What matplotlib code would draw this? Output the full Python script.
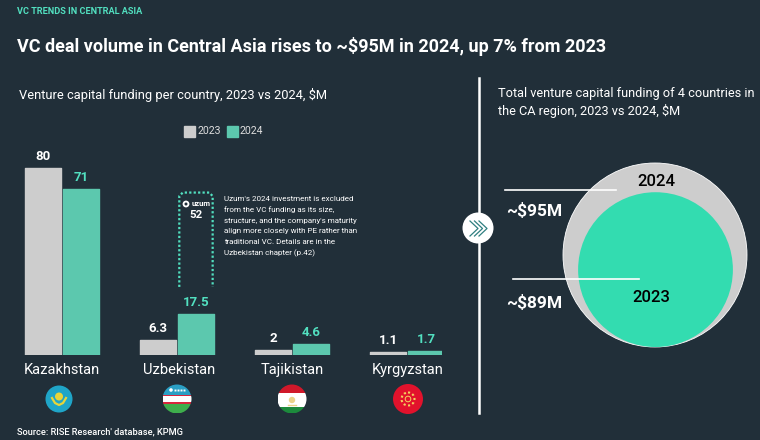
import numpy as np
import matplotlib
matplotlib.use('Agg')
import matplotlib.pyplot as plt
from matplotlib.patches import Circle, Rectangle

countries = ['Kazakhstan', 'Uzbekistan', 'Tajikistan', 'Kyrgyzstan']
funding_2023 = [80, 6.3, 2, 1.1]
funding_2024 = [71, 17.5, 4.6, 1.7]
labels_2023 = ['80', '6.3', '2', '1.1']
labels_2024 = ['71', '17.5', '4.6', '1.7']
uzum_value = 52
total_years = ['2024', '2023']
total_values = [95, 89]
total_labels = ['~$95M', '~$89M']
note_lines = ["Uzum's 2024 investment is excluded",
              'from the VC funding as its size,',
              "structure, and the company's maturity",
              'align more closely with PE rather than',
              'traditional VC. Details are in the',
              'Uzbekistan chapter (p.42)']

BG = '#212f39'
GREY = '#cdcdcd'
TEAL = '#5cc8ae'
MINT = '#33dcb0'
MINT_TXT = '#52e0c0'
plt.rcParams['font.family'] = ['Roboto', 'DejaVu Sans']

W, H = 760, 440
fig = plt.figure(figsize=(W / 100, H / 100), dpi=100, facecolor=BG)

# overlay in pixel coordinates for text and decoration
ov = fig.add_axes([0, 0, 1, 1])
ov.set_xlim(0, W)
ov.set_ylim(H, 0)
ov.axis('off')

# bars: one unit of x is one country group, y is $M
base_px, top_px = 354.5, 160
x0_px, group_px = 62, 115
ax = fig.add_axes([(x0_px - 0.6 * group_px) / W, (H - base_px) / H,
                   3.9 * group_px / W, (base_px - top_px) / H])
ax.set_xlim(-0.6, 3.3)
ax.set_ylim(0, (base_px - top_px) / 2.33)
ax.axis('off')
ax.patch.set_alpha(0)

x = np.arange(len(countries))
bw = 0.305
ax.bar(x - 0.165, funding_2023, bw, color=GREY, edgecolor=GREY, lw=1, joinstyle='round')
ax.bar(x + 0.165, funding_2024, bw, color=TEAL, edgecolor=TEAL, lw=1, joinstyle='round')
for i in x:
    ax.annotate(labels_2023[i], (i - 0.165, funding_2023[i]), xytext=(0, 5.5),
                textcoords='offset points', ha='center', color='white',
                fontsize=9.5, fontweight='bold')
    ax.annotate(labels_2024[i], (i + 0.165, funding_2024[i]), xytext=(0, 5.5),
                textcoords='offset points', ha='center', color=MINT_TXT,
                fontsize=9.5, fontweight='bold')

# dotted outline for the excluded Uzum deal, stacked on Uzbekistan 2024
uz_x = 1 + 0.165
uz_top = funding_2024[1] + uzum_value
uz_bottom = 29
hw, r = 0.145, 0.03
ax.plot([uz_x - hw, uz_x - hw, uz_x - hw + r, uz_x + hw - r, uz_x + hw, uz_x + hw],
        [uz_bottom, uz_top - 1.5, uz_top, uz_top, uz_top - 1.5, uz_bottom],
        color=MINT_TXT, lw=1.6, ls=(0, (1, 1)), clip_on=False)

# header
ov.text(17, 12, 'VC TRENDS IN CENTRAL ASIA', color=MINT_TXT, fontsize=6.6,
        fontweight='bold', va='center')
ov.text(17, 47, 'VC deal volume in Central Asia rises to ~$95M in 2024, up 7% from 2023',
        color='white', fontsize=12.95, fontweight='bold', va='center')
ov.text(19, 95, 'Venture capital funding per country, 2023 vs 2024, $M', color='white',
        fontsize=9.3, va='center')

# legend
ov.add_patch(Rectangle((184, 126), 11, 11, color=GREY))
ov.text(197, 131.5, '2023', color='#dddddd', fontsize=7.6, va='center')
ov.add_patch(Rectangle((227, 126), 11, 11, color=TEAL))
ov.text(240, 131.5, '2024', color='#dddddd', fontsize=7.6, va='center')

# Uzum badge and note
ov.add_patch(Circle((186, 204), 3.4, fc='white', ec='none', zorder=4))
ov.add_patch(Circle((186, 204), 1.5, fc=BG, ec='none', zorder=5))
ov.text(192, 204, 'uzum', color='white', fontsize=5.6, fontweight='bold', va='center')
ov.text(196, 215.5, str(uzum_value), color='white', fontsize=8.2, fontweight='bold',
        ha='center', va='center')
for k, line in enumerate(note_lines):
    ov.text(224, 199 + k * 10.8, line, color='white', fontsize=5.75, va='center')

# country names
name_x = [62, 179, 292, 408]
for px, name in zip(name_x, countries):
    ov.text(px, 370, name, color='white', fontsize=10.5, ha='center', va='center')


def stripes(cx, cy, rad, bands):
    # horizontal bands given as (start, end, colour) in fractions of the diameter
    clip = Circle((cx, cy), rad, transform=ov.transData)
    for a, b, c in bands:
        p = ov.add_patch(Rectangle((cx - rad, cy - rad + a * 2 * rad), 2 * rad,
                                   (b - a) * 2 * rad, color=c, lw=0))
        p.set_clip_path(clip)


fy = 399
# Kazakhstan
ov.add_patch(Circle((59, fy), 13.5, fc='#1fa5c8', ec='none'))
ov.add_patch(Circle((59, fy - 2.5), 4, fc='#e8d53a', ec='none'))
ov.plot([52, 55, 59, 63, 66], [fy - 1, fy + 4, fy + 6, fy + 4, fy - 1], color='#e8d53a', lw=1.6)

# Uzbekistan
stripes(177, fy, 14.5, [(0, .36, '#2a9fc4'), (.36, .39, '#d7263d'), (.39, .62, 'white'),
                        (.62, .66, '#d7263d'), (.66, 1, '#3eae4c')])
ov.add_patch(Circle((171, fy - 9), 1.8, fc='white', ec='none'))
ov.plot([175, 178, 181, 184], [fy - 9] * 4, ls='none', marker='s', ms=1.4, color='white', mew=0)

# Tajikistan
stripes(292, fy, 14.5, [(0, .28, '#d0182a'), (.28, .78, 'white'), (.78, 1, '#1c8a3c')])
ov.add_patch(Circle((292, fy + 1), 3.2, fc='#ead28a', ec='none'))
ov.plot([288, 296], [fy + 6, fy + 6], color='#ead28a', lw=1)

# Kyrgyzstan
ov.add_patch(Circle((408, fy), 15, fc='#e2122c', ec='none'))
ov.add_patch(Circle((408, fy), 6.5, fc='none', ec='#f4d35e', lw=1.5, ls=(0, (1, 1.2))))
ov.add_patch(Circle((408, fy), 2.8, fc='none', ec='#f4d35e', lw=0.7))

ov.text(17, 432, "Source: RISE Research' database, KPMG", color='white', fontsize=6.65,
        fontweight='medium', va='center')

# divider with chevron button
ov.plot([479, 479], [78, 413], color='white', lw=1.8)
ov.add_patch(Circle((478, 228), 15.5, fc='white', ec='none', zorder=3))
for dx in (0, 4.5, 9):
    ov.plot([470 + dx, 478 + dx, 470 + dx], [221, 228.5, 236], color='#2f7f80',
            lw=0.9, zorder=4)

ov.text(498, 94, 'Total venture capital funding of 4 countries in', color='white',
        fontsize=9.15, va='center')
ov.text(498, 111, 'the CA region, 2023 vs 2024, $M', color='white', fontsize=9.15, va='center')


# nested circles sharing their lower edge, radius follows the totals
def radius(v):
    return 92 * (v / total_values[0]) ** 2.65


bottom_y = 347
ro, ri = radius(total_values[0]), radius(total_values[1])
ov.add_patch(Circle((655, bottom_y - ro), ro, fc=GREY, ec='white', lw=0.6))
ov.add_patch(Circle((655.5, bottom_y - ri), ri, fc=MINT, ec='none'))
ov.text(656, 182, total_years[0], color='black', fontsize=12, fontweight='medium',
        ha='center', va='center')
ov.text(651, 297, total_years[1], color='black', fontsize=12, fontweight='medium',
        ha='center', va='center')
ov.plot([505, 616], [190, 190], color='white', lw=1.2)
ov.plot([513, 639], [279, 279], color='white', lw=1.2)
ov.text(506, 211, total_labels[0], color='white', fontsize=12.5, fontweight='bold', va='center')
ov.text(506, 303, total_labels[1], color='white', fontsize=12.5, fontweight='bold', va='center')

fig.savefig('out.png', dpi=100, facecolor=BG)
